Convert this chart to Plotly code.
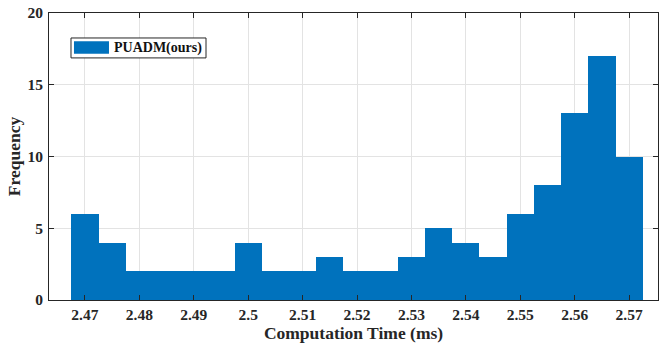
import plotly.graph_objects as go

bin_centers = [2.470, 2.475, 2.480, 2.485, 2.490, 2.495, 2.500, 2.505, 2.510, 2.515,
               2.520, 2.525, 2.530, 2.535, 2.540, 2.545, 2.550, 2.555, 2.560, 2.565, 2.570]
counts = [6, 4, 2, 2, 2, 2, 4, 2, 2, 3, 2, 2, 3, 5, 4, 3, 6, 8, 13, 17, 10]
bin_width = 0.005
x_ticks = [2.47, 2.48, 2.49, 2.50, 2.51, 2.52, 2.53, 2.54, 2.55, 2.56, 2.57]
x_tick_labels = ["2.47", "2.48", "2.49", "2.5", "2.51", "2.52", "2.53", "2.54", "2.55", "2.56", "2.57"]
y_ticks = [0, 5, 10, 15, 20]
legend_label = "PUADM(ours)"

FONT = "Liberation Serif"
BAR_COLOR = "#0072BD"
AX_COLOR = "#262626"
TICK_FONT = dict(family=FONT, size=15.5, color=AX_COLOR, weight="bold")

fig = go.Figure()
fig.add_trace(go.Bar(
    x=bin_centers, y=counts, width=[bin_width] * len(counts),
    name=legend_label, showlegend=False,
    marker=dict(color=BAR_COLOR, line=dict(width=0)),
))

axis_common = dict(
    showline=True, linecolor=AX_COLOR, linewidth=1, mirror="ticks",
    ticks="inside", ticklen=5, tickcolor=AX_COLOR,
    showgrid=True, gridcolor="#e3e3e3", gridwidth=1, zeroline=False,
    tickfont=TICK_FONT,
)

# legend box drawn in paper coordinates (MATLAB-style wide swatch)
fig.add_shape(type="rect", xref="paper", yref="paper",
              x0=0.0361, x1=0.2578, y0=0.8435, y1=0.913,
              line=dict(color=AX_COLOR, width=1), fillcolor="white", layer="above")
fig.add_shape(type="rect", xref="paper", yref="paper",
              x0=0.041, x1=0.0985, y0=0.8584, y1=0.9016,
              line=dict(width=0), fillcolor=BAR_COLOR, layer="above")
fig.add_annotation(xref="paper", yref="paper", x=0.1034, y=0.878,
                   xanchor="left", yanchor="middle", showarrow=False,
                   text=legend_label,
                   font=dict(family=FONT, size=14, color="#111111", weight="bold"))

fig.update_layout(
    width=659, height=347,
    margin=dict(l=49, r=1, t=13, b=47),
    paper_bgcolor="white", plot_bgcolor="white",
    bargap=0,
    font=dict(family=FONT, color=AX_COLOR),
    showlegend=False,
    xaxis=dict(
        **axis_common,
        range=[2.4634, 2.5753],
        tickvals=x_ticks, ticktext=x_tick_labels,
        ticklabelstandoff=0,
        title=dict(text="Computation Time (ms)",
                   font=dict(family=FONT, size=17.5, color=AX_COLOR, weight="bold"), standoff=2),
    ),
    yaxis=dict(
        **axis_common,
        range=[0, 20],
        tickvals=y_ticks,
        ticklabelstandoff=2,
        title=dict(text="Frequency",
                   font=dict(family=FONT, size=17.5, color=AX_COLOR, weight="bold"), standoff=2),
    ),
)

fig.write_html("out.html", config={"displayModeBar": False},
               post_script="document.body.style.margin='0px';")
